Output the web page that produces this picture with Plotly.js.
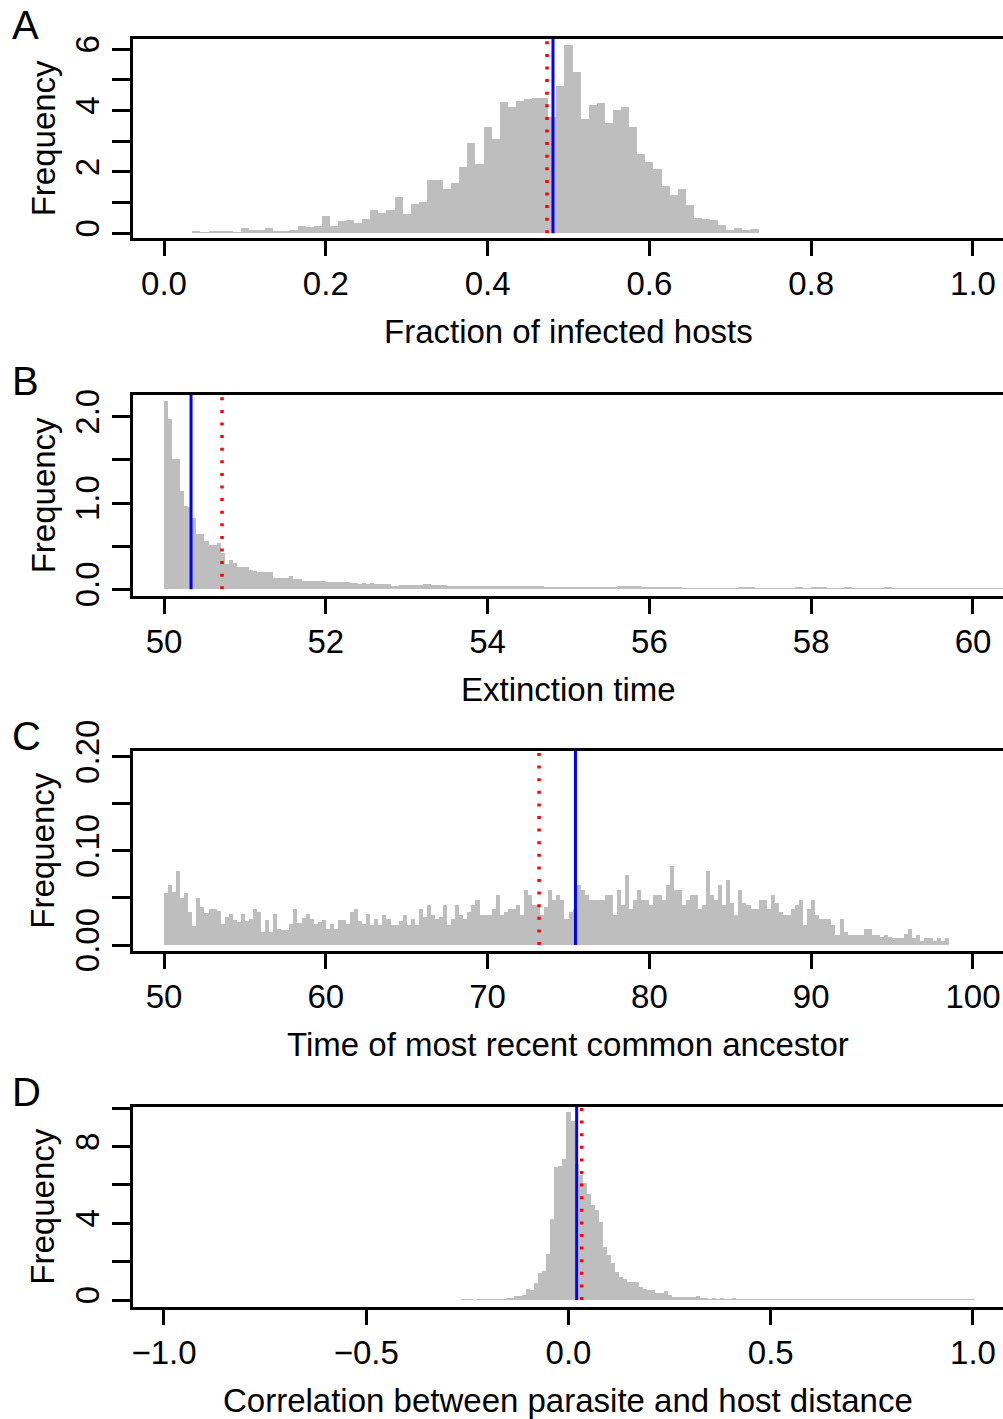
<!DOCTYPE html>
<html><head><meta charset="utf-8">
<script src="https://cdn.plot.ly/plotly-3.0.1.min.js"></script>
<style>html,body{margin:0;padding:0;background:#fff}#chart{width:1003px;height:1419px}</style>
</head><body><div id="chart"></div>
<script>
// ---------------- DATA ----------------
// Panel A: fraction of infected hosts (bins of 0.01, centred on 0.04 ... 0.73)
const aBinStart = 0.035, aBinWidth = 0.01;
const aFreq = [0.08,0.05,0.08,0.08,0.08,0.03,0.18,0.12,0.10,0.18,
 0.08,0.08,0.12,0.23,0.20,0.23,0.55,0.24,0.40,0.45,
 0.35,0.48,0.77,0.66,0.77,1.18,0.62,0.96,1.02,1.74,
 1.74,1.43,1.64,2.15,2.94,2.26,3.45,3.07,4.28,4.13,
 4.31,4.37,4.42,4.42,3.80,4.80,6.13,5.25,3.72,4.17,
 4.26,3.59,4.02,4.12,3.45,2.58,2.34,2.10,1.54,1.25,
 1.43,0.91,0.50,0.48,0.42,0.28,0.10,0.17,0.10,0.13];
const aMean = 0.4808, aMedian = 0.4734;

// Panel B: extinction time (fine bins 0.05 from 50, then 0.1 bins from 52.8)
const bHeadStart = 50.0, bHeadWidth = 0.05;
const bHeadFreq = [2.18,1.97,1.51,1.51,1.14,0.97,0.95,0.83,0.64,0.64,
 0.56,0.51,0.51,0.54,0.42,0.29,0.34,0.30,0.26,0.26,
 0.26,0.22,0.21,0.20,0.20,0.20,0.20,0.13,0.13,0.13,
 0.13,0.15,0.12,0.12,0.10,0.10,0.10,0.10,0.10,0.10,
 0.08,0.08,0.08,0.08,0.08,0.08,0.07,0.07,0.065,0.07,
 0.065,0.07,0.065,0.06,0.065,0.06];
const bTailStart = 52.8, bTailWidth = 0.1;
const bTailFreq = [0.042,0.054,0.054,0.054,0.062,0.046,0.046,0.039,0.039,0.039,
 0.039,0.035,0.040,0.035,0.035,0.035,0.039,0.039,0.039,0.031,
 0.031,0.031,0.031,0.031,0.031,0.031,0.031,0.031,0.039,0.039,
 0.039,0.027,0.027,0.027,0.027,0.027,0.019,0.019,0.019,0.019,
 0.019,0.019,0.019,0.027,0.027,0.019,0.019,0.019,0.019,0.019,
 0.027,0.019,0.027,0.027,0.019,0.019,0.027,0.019,0.019,0.019,
 0.019,0.027,0.019,0.015,0.015,0.015,0.015,0.015,0.015,0.015,
 0.015,0.015,0.015,0.015,0.015,0.015];
const bMean = 50.334, bMedian = 50.717;

// Panel C: time of most recent common ancestor (bins of 0.25 from 50)
const cBinStart = 50.0, cBinWidth = 0.25;
const cFreq = [0.055,0.064,0.056,0.079,0.050,0.055,0.035,0.020,0.050,0.040,
 0.034,0.038,0.038,0.036,0.022,0.030,0.033,0.027,0.024,0.033,
 0.026,0.028,0.038,0.035,0.014,0.027,0.014,0.033,0.017,0.016,
 0.016,0.022,0.038,0.023,0.029,0.033,0.028,0.022,0.024,0.027,
 0.017,0.022,0.017,0.027,0.027,0.022,0.035,0.038,0.025,0.022,
 0.033,0.021,0.028,0.021,0.032,0.028,0.021,0.021,0.025,0.032,
 0.021,0.028,0.021,0.038,0.030,0.042,0.032,0.028,0.030,0.042,
 0.021,0.028,0.042,0.032,0.028,0.035,0.042,0.048,0.032,0.032,
 0.032,0.038,0.053,0.032,0.035,0.038,0.038,0.042,0.032,0.058,
 0.053,0.042,0.042,0.032,0.040,0.058,0.048,0.053,0.048,0.028,
 0.035,0.038,0.064,0.058,0.053,0.048,0.048,0.048,0.048,0.053,
 0.053,0.032,0.058,0.042,0.074,0.038,0.048,0.058,0.048,0.048,
 0.042,0.053,0.053,0.048,0.064,0.084,0.058,0.058,0.042,0.048,
 0.053,0.053,0.038,0.042,0.079,0.053,0.048,0.064,0.042,0.069,
 0.045,0.032,0.058,0.045,0.042,0.038,0.038,0.048,0.048,0.038,
 0.053,0.045,0.035,0.032,0.032,0.038,0.042,0.048,0.021,0.038,
 0.048,0.032,0.028,0.028,0.028,0.021,0.011,0.028,0.014,0.011,
 0.011,0.011,0.011,0.017,0.017,0.011,0.011,0.008,0.011,0.008,
 0.007,0.007,0.007,0.012,0.017,0.007,0.011,0.004,0.007,0.007,
 0.004,0.007,0.004,0.007];
const cMean = 75.43, cMedian = 73.18;

// Panel D: correlation between parasite and host distance (bins of 0.01, centred on -0.26 ... 1.00)
const dBinStart = -0.265, dBinWidth = 0.01;
const dFreq = [0.035,0.03,0.03,0.02,0.03,0.03,0.03,0.04,0.03,0.05,
 0.05,0.09,0.12,0.20,0.20,0.26,0.57,0.52,0.90,1.39,
 1.53,2.40,4.20,6.96,7.00,7.35,9.79,9.36,7.10,6.50,
 6.09,5.53,4.96,4.70,4.09,2.78,2.35,1.91,1.48,1.22,
 1.10,0.96,0.92,0.92,0.70,0.57,0.52,0.52,0.35,0.38,
 0.49,0.26,0.17,0.17,0.17,0.17,0.14,0.14,0.23,0.09,
 0.09,0.07,0.09,0.07,0.09,0.07,0.07,0.09,0.07,0.05,
 0.07,0.05,0.07,0.05,0.05,0.07,0.05,0.05,0.07,0.05,
 0.05,0.05,0.04,0.05,0.05,0.04,0.05,0.05,0.04,0.05,
 0.04,0.05,0.04,0.04,0.05,0.04,0.04,0.05,0.04,0.04,
 0.04,0.04,0.05,0.04,0.04,0.04,0.04,0.05,0.04,0.04,
 0.04,0.04,0.04,0.04,0.05,0.04,0.04,0.04,0.04,0.04,
 0.04,0.04,0.04,0.04,0.04,0.04,0.05];
const dMean = 0.0202, dMedian = 0.0325;

const xTitles = ['Fraction of infected hosts','Extinction time','Time of most recent common ancestor','Correlation between parasite and host distance'];
const yTitle = 'Frequency';
const letters = ['A','B','C','D'];
const aXTicks = [0,0.2,0.4,0.6,0.8,1.0], aXLabels = ['0.0','0.2','0.4','0.6','0.8','1.0'];
const bXTicks = [50,52,54,56,58,60], bXLabels = ['50','52','54','56','58','60'];
const cXTicks = [50,60,70,80,90,100], cXLabels = ['50','60','70','80','90','100'];
const dXTicks = [-1,-0.5,0,0.5,1], dXLabels = ['\u22121.0','\u22120.5','0.0','0.5','1.0'];
const aYTicks = [0,1,2,3,4,5,6], aYLabels = ['0','','2','','4','','6'];
const bYTicks = [0,0.5,1,1.5,2], bYLabels = ['0.0','','1.0','','2.0'];
const cYTicks = [0,0.05,0.1,0.15,0.2], cYLabels = ['0.00','','0.10','','0.20'];
const dYTicks = [0,2,4,6,8,10], dYLabels = ['0','','4','','8',''];

// ---------------- LAYOUT / DRAW ----------------
const W = 1003, H = 1419;
const FONT = 'Liberation Sans, Arial, Helvetica, sans-serif';
const GREY = '#bebebe';
const centers = (start, w, n) => Array.from({length: n}, (_, i) => start + w * (i + 0.5));

const panels = [
  {top: 38.8, bottom: 237.8, xr: [-0.0381, 1.0371], yr: [-0.1467, 6.342],
   xt: aXTicks, xl: aXLabels, yt: aYTicks, yl: aYLabels,
   bars: [[aBinStart, aBinWidth, aFreq]], mean: aMean, median: aMedian},
  {top: 394.8, bottom: 595.8, xr: [49.619, 60.371], yr: [-0.0753, 2.2538],
   xt: bXTicks, xl: bXLabels, yt: bYTicks, yl: bYLabels,
   bars: [[bHeadStart, bHeadWidth, bHeadFreq], [bTailStart, bTailWidth, bTailFreq]], mean: bMean, median: bMedian},
  {top: 750.5, bottom: 950.8, xr: [48.096, 101.855], yr: [-0.00616, 0.20658],
   xt: cXTicks, xl: cXLabels, yt: cYTicks, yl: cYLabels,
   bars: [[cBinStart, cBinWidth, cFreq]], mean: cMean, median: cMedian},
  {top: 1106.5, bottom: 1306.8, xr: [-1.0761, 1.0742], yr: [-0.3547, 10.094],
   xt: dXTicks, xl: dXLabels, yt: dYTicks, yl: dYLabels,
   bars: [[dBinStart, dBinWidth, dFreq]], mean: dMean, median: dMedian}
];

const data = [], shapes = [], annotations = [];
const layout = {
  width: W, height: H, margin: {l: 0, r: 0, t: 0, b: 0},
  paper_bgcolor: '#fff', plot_bgcolor: '#fff', showlegend: false,
  font: {family: FONT, size: 33, color: '#000'}, barmode: 'overlay', bargap: 0, bargroupgap: 0
};
const xLeft = 133.2;
panels.forEach((p, k) => {
  const n = k === 0 ? '' : String(k + 1);
  const xa = 'x' + n, ya = 'y' + n;
  p.bars.forEach(([start, w, freq]) => {
    data.push({type: 'bar', x: centers(start, w, freq.length), y: freq, width: w,
      xaxis: xa, yaxis: ya, marker: {color: GREY, line: {width: 0}}, hoverinfo: 'x+y'});
  });
  const yd = [1 - p.bottom / H, 1 - p.top / H];
  layout['xaxis' + n] = {domain: [xLeft / W, 1], anchor: ya, range: p.xr, showgrid: false, zeroline: false,
    showline: true, linewidth: 3, linecolor: '#000', mirror: true,
    ticks: 'outside', ticklen: 15, tickwidth: 3, tickcolor: '#000',
    tickmode: 'array', tickvals: p.xt, ticktext: p.xl, tickfont: {size: 33, family: FONT}};
  layout['yaxis' + n] = {domain: yd, anchor: xa, range: p.yr, showgrid: false, zeroline: false,
    showline: true, linewidth: 3, linecolor: '#000', mirror: false,
    ticks: 'outside', ticklen: 18, tickwidth: 3, tickcolor: '#000', tickangle: -90,
    tickmode: 'array', tickvals: p.yt, ticktext: p.yl, tickfont: {size: 33, family: FONT}};
  shapes.push({type: 'line', xref: xa, yref: ya, x0: p.median, x1: p.median, y0: 0, y1: p.yr[1],
    line: {color: '#ff0000', width: 3.5, dash: '3px,9.6px'}});
  shapes.push({type: 'line', xref: xa, yref: ya, x0: p.mean, x1: p.mean, y0: 0, y1: p.yr[1],
    line: {color: '#0000ff', width: 3}});
  annotations.push({xref: 'paper', yref: 'paper', x: 10 / W, y: 1 - (p.top - 14.3) / H,
    xanchor: 'left', yanchor: 'middle', text: letters[k], showarrow: false, font: {size: 40, family: FONT}});
  annotations.push({xref: 'paper', yref: 'paper', x: (xLeft + W) / 2 / W, y: 1 - (p.bottom + 93.2) / H,
    xanchor: 'center', yanchor: 'middle', text: xTitles[k], showarrow: false, font: {size: 33, family: FONT}});
  annotations.push({xref: 'paper', yref: 'paper', x: 43 / W, y: 1 - (p.top + p.bottom) / 2 / H,
    xanchor: 'center', yanchor: 'middle', textangle: -90, text: yTitle, showarrow: false, font: {size: 33, family: FONT}});
});
layout.shapes = shapes;
layout.annotations = annotations;
Plotly.newPlot('chart', data, layout, {staticPlot: true, displayModeBar: false});
</script></body></html>
